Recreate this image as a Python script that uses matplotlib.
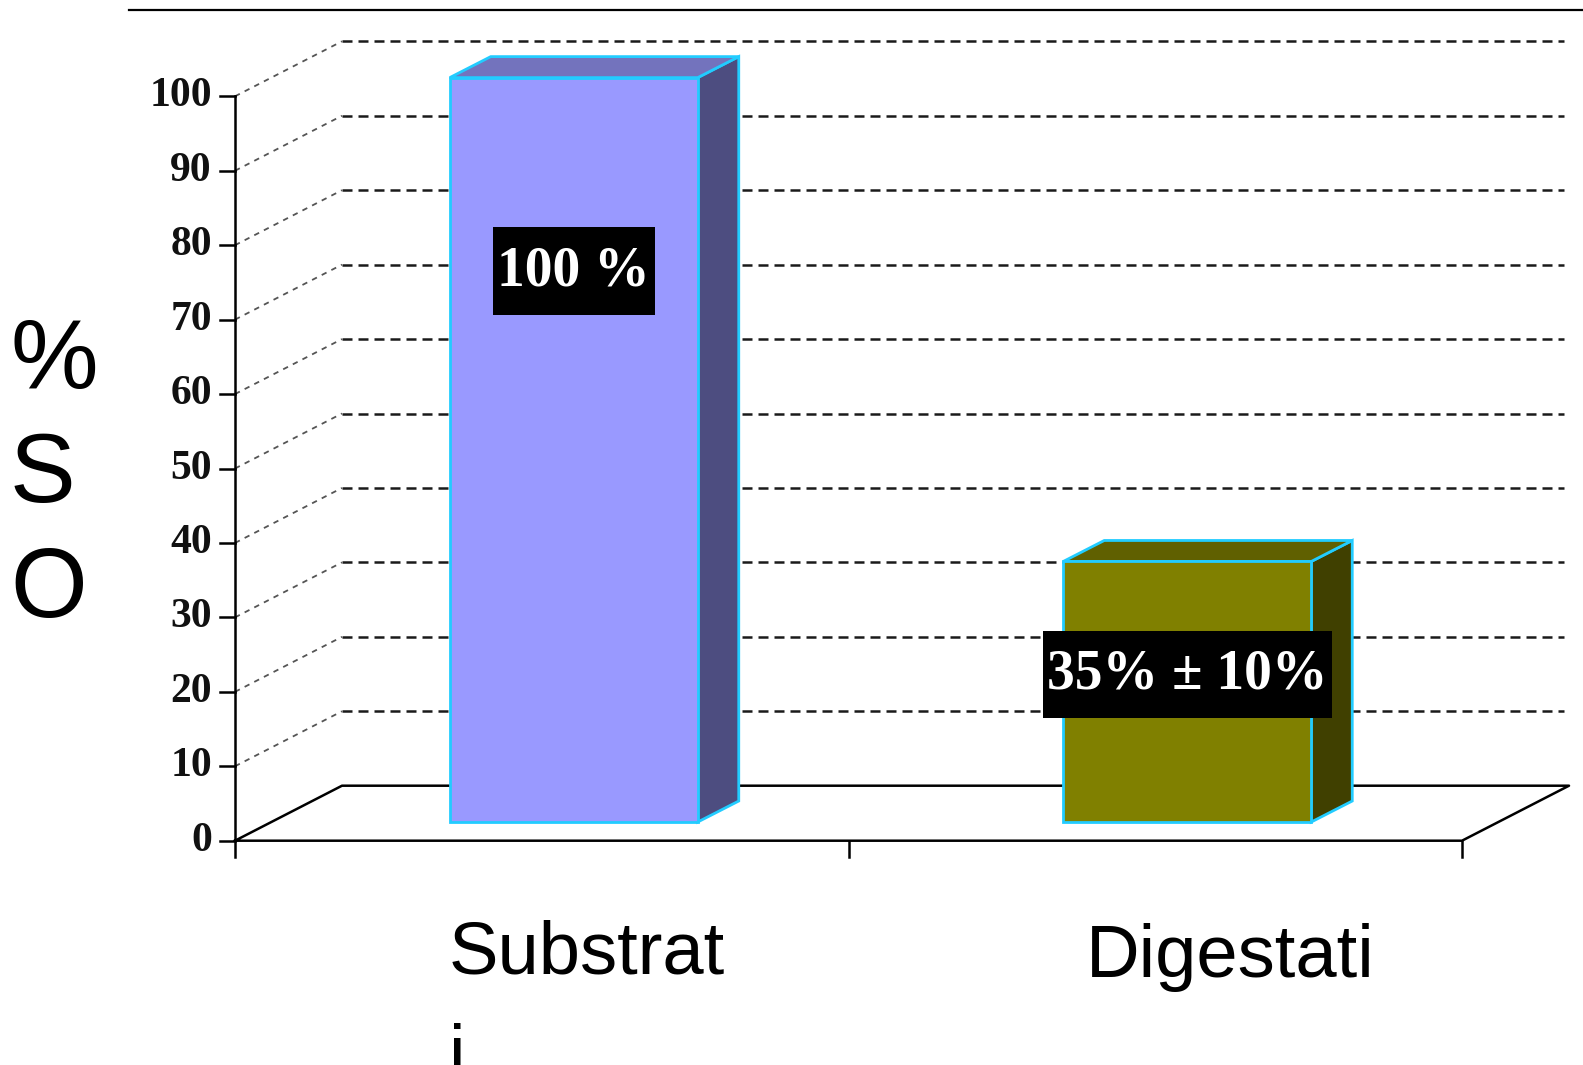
import matplotlib.pyplot as plt
from matplotlib.patches import Polygon

# SO share, substrates vs digestates
categories = ["Substrat\ni", "Digestati"]
values = [100, 35]
value_labels = ["100 %", "35% \u00b1 10%"]
yticks = [0, 10, 20, 30, 40, 50, 60, 70, 80, 90, 100]
ylabel_letters = ["%", "S", "O"]

front_colors = ["#9999FF", "#808000"]
top_colors = ["#7373BD", "#606000"]
side_colors = ["#4D4D80", "#404000"]
edge = "#22CCFF"

W, H = 1583, 1065
fig = plt.figure(figsize=(W / 100, H / 100), dpi=100)
ax = fig.add_axes([0, 0, 1, 1])

# one x unit per category slot, y in percent
x0_px, xunit = 235, 613.5
y0_px, yunit = 840.7, 7.444
ax.set_xlim(-x0_px / xunit, (W - x0_px) / xunit)
ax.set_ylim(-(H - y0_px) / yunit, y0_px / yunit)
ax.axis("off")

n = len(categories)
wx, wy = 107 / xunit, 55 / yunit        # depth of the back wall
fx, fy = 32 / xunit, 2.51                # bar front face offset
bx, by = 41 / xunit, 2.82                # bar depth
bw = 248 / xunit

grid_style = dict(color="#1a1a1a", lw=1.8, ls=(0, (4, 2.4)), zorder=1)
side_style = dict(color="#555555", lw=1.3, ls=(0, (3, 3)), zorder=1)

# walls and floor
for t in yticks[1:]:
    ax.plot([0, wx], [t, t + wy], **side_style)
    ax.plot([wx, n + wx - 0.008], [t + wy, t + wy], **grid_style)
floor_x = [0, wx, n + wx, n, 0]
floor_y = [0, wy, wy, 0, 0]
ax.plot(floor_x, floor_y, color="black", lw=1.8, zorder=1)

# y axis with ticks
ax.plot([0, 0], [-16 / yunit, yticks[-1]], color="black", lw=1.8, zorder=3)
for t in yticks:
    ax.plot([-15 / xunit, 0], [t, t], color="black", lw=1.8, zorder=3)
    ax.text(-23 / xunit, t, str(t), ha="right", va="center",
            fontsize=30, fontweight="bold", family="Liberation Serif",
            color="#111111")
for i in range(1, n + 1):
    ax.plot([i, i], [0, -16 / yunit], color="black", lw=1.8, zorder=3)

# 3d bars
label_y = [76.5, 22.3]
for i, v in enumerate(values):
    l = i + 0.5 - bw / 2 + fx
    r = l + bw
    b, t = fy, v + fy
    front = Polygon([(l, b), (r, b), (r, t), (l, t)], closed=True,
                    fc=front_colors[i], ec=edge, lw=2, zorder=4)
    top = Polygon([(l, t), (r, t), (r + bx, t + by), (l + bx, t + by)],
                  closed=True, fc=top_colors[i], ec=edge, lw=2, zorder=4)
    side = Polygon([(r, b), (r + bx, b + by), (r + bx, t + by), (r, t)],
                   closed=True, fc=side_colors[i], ec=edge, lw=2, zorder=4)
    for p in (side, top, front):
        ax.add_patch(p)
    ax.text((l + r) / 2, label_y[i], value_labels[i], ha="center",
            va="center", fontsize=40, fontweight="bold",
            family="Liberation Serif", color="white", zorder=6,
            bbox=dict(boxstyle="square,pad=0.08", mutation_aspect=4,
                      fc="black", ec="none"))

# rule at the top
fig.add_artist(plt.Line2D([129 / W, 1], [1 - 10 / H, 1 - 10 / H],
                          color="black", lw=1.6))

# category names
cat_pos = [(449, 919), (1086, 923)]
for name, (px, py) in zip(categories, cat_pos):
    fig.text(px / W, 1 - py / H, name, ha="left", va="top",
             fontsize=53.5, family="Liberation Sans", linespacing=1.65)

# axis title, one letter per line
ylabel_base = [388, 502, 617]
for ch, py in zip(ylabel_letters, ylabel_base):
    fig.text(10 / W, 1 - py / H, ch, ha="left", va="baseline",
             fontsize=71, family="Liberation Sans")

fig.savefig("out.png", dpi=100)
